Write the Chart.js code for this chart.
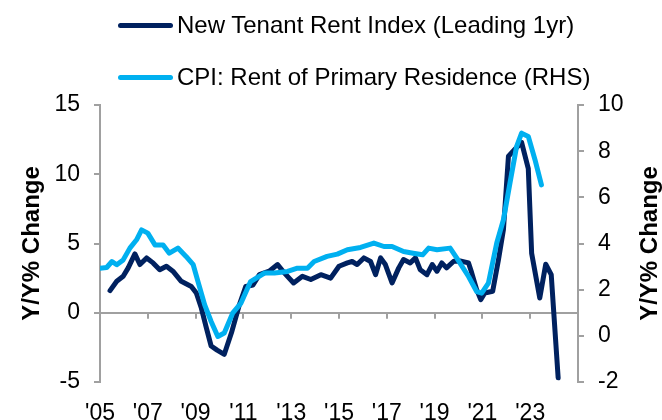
<!DOCTYPE html>
<html>
<head>
<meta charset="utf-8">
<script src="https://cdn.jsdelivr.net/npm/chart.js@4"></script>
<style>
  html, body { margin:0; padding:0; background:#fff; overflow:hidden; }
  #wrap { position:relative; width:662px; height:420px; }
  canvas { position:absolute; left:0; top:0; }
  .leg { position:absolute; left:118px; display:flex; align-items:center; font:24px "Liberation Sans", Arial, sans-serif; color:#000; white-space:nowrap; line-height:28px; }
  .leg i { display:inline-block; width:55px; height:5px; border-radius:3px; margin-right:4px; }
</style>
</head>
<body>
<div id="wrap">
  <canvas id="c" width="662" height="420"></canvas>
  <div class="leg" style="top:11px"><i style="background:#00215f"></i>New Tenant Rent Index (Leading 1yr)</div>
  <div class="leg" style="top:63px"><i style="background:#00b0f0"></i>CPI: Rent of Primary Residence (RHS)</div>
</div>
<script>
// data (x = decimal year)
const tenantDates = [2005.42,2005.7,2005.97,2006.18,2006.46,2006.67,2006.95,2007.22,2007.5,2007.78,2008.05,2008.4,2008.82,2009.03,2009.24,2009.45,2009.65,2009.9,2010.2,2010.5,2010.83,2011.1,2011.4,2011.67,2012.08,2012.43,2012.7,2013.1,2013.47,2013.82,2014.24,2014.65,2015.0,2015.35,2015.55,2015.76,2016.04,2016.32,2016.53,2016.74,2016.94,2017.22,2017.5,2017.7,2017.98,2018.2,2018.4,2018.68,2018.9,2019.1,2019.3,2019.5,2019.8,2020.07,2020.42,2020.55,2020.76,2020.93,2021.1,2021.43,2021.67,2021.88,2022.09,2022.36,2022.64,2022.92,2023.06,2023.4,2023.65,2023.88,2024.17];
const tenantValues = [1.6,2.27,2.63,3.24,4.25,3.48,3.96,3.6,3.1,3.36,3.0,2.27,1.9,1.43,0.34,-1.1,-2.4,-2.7,-3.0,-1.45,0.58,1.9,2.0,2.75,3.0,3.48,2.9,2.15,2.63,2.4,2.75,2.5,3.36,3.6,3.7,3.48,3.96,3.7,2.75,3.96,3.48,2.15,3.24,3.84,3.6,3.96,3.1,2.75,3.48,3.0,3.6,3.24,3.72,3.74,3.6,2.9,1.67,0.95,1.43,1.55,3.8,6.0,11.3,11.8,12.3,10.4,4.3,1.06,3.5,2.75,-4.7];

const cpiDates = [2005.0,2005.28,2005.5,2005.7,2005.97,2006.25,2006.53,2006.74,2007.0,2007.3,2007.64,2007.9,2008.26,2008.6,2008.9,2009.1,2009.38,2009.65,2009.93,2010.2,2010.55,2010.9,2011.3,2011.88,2012.3,2012.85,2013.26,2013.68,2013.96,2014.5,2014.93,2015.35,2015.9,2016.46,2016.88,2017.22,2017.7,2018.1,2018.5,2018.75,2019.1,2019.65,2019.93,2020.42,2020.76,2020.97,2021.25,2021.6,2021.88,2022.15,2022.43,2022.64,2022.92,2023.2,2023.47];
const cpiValues = [2.93,2.96,3.22,3.08,3.29,3.8,4.16,4.59,4.45,3.94,3.94,3.58,3.8,3.44,3.08,2.35,1.34,0.62,-0.03,0.12,0.98,1.42,2.35,2.72,2.72,2.79,2.93,2.93,3.22,3.44,3.54,3.73,3.83,4.02,3.87,3.87,3.65,3.58,3.51,3.8,3.73,3.8,3.37,2.57,1.92,1.85,2.28,4.02,5.03,6.6,8.2,8.78,8.64,7.63,6.54];

const xTickYears = [2005,2007,2009,2011,2013,2015,2017,2019,2021,2023];
const xTickLabels = ["'05","'07","'09","'11","'13","'15","'17","'19","'21","'23"];

const FONT = '"Liberation Sans", Arial, sans-serif';
const AXIS = '#a0a0a0';

// tick marks hanging under the zero line + right axis title (reads bottom-to-top)
const extras = {
  id:'extras',
  afterDraw(chart){
    const c = chart.ctx, x = chart.scales.x, y = chart.scales.y, a = chart.chartArea;
    const y0 = y.getPixelForValue(0);
    c.save();
    c.strokeStyle = AXIS; c.lineWidth = 2;
    xTickYears.forEach(v => {
      const px = Math.round(x.getPixelForValue(v));
      c.beginPath(); c.moveTo(px, y0); c.lineTo(px, y0 + 6); c.stroke();
    });
    c.translate(650, (a.top + a.bottom) / 2);
    c.rotate(-Math.PI / 2);
    c.font = 'bold 24px ' + FONT;
    c.fillStyle = '#000'; c.textAlign = 'center'; c.textBaseline = 'middle';
    c.fillText('Y/Y% Change', 0, 0);
    c.restore();
  }
};

new Chart(document.getElementById('c').getContext('2d'), {
  type:'line',
  data:{ datasets:[
    { label:'New Tenant Rent Index (Leading 1yr)', yAxisID:'y', order:1,
      data: tenantDates.map((d,i)=>({x:d, y:tenantValues[i]})),
      borderColor:'#00215f', borderWidth:5, pointRadius:0, tension:0, borderJoinStyle:'round', borderCapStyle:'round' },
    { label:'CPI: Rent of Primary Residence (RHS)', yAxisID:'y1', order:0,
      data: cpiDates.map((d,i)=>({x:d, y:cpiValues[i]})),
      borderColor:'#00b0f0', borderWidth:5, pointRadius:0, tension:0, borderJoinStyle:'round', borderCapStyle:'round' }
  ]},
  options:{
    responsive:false, animation:false,
    layout:{ padding:{ top:105, left:0, right:0, bottom:0 } },
    plugins:{ legend:{display:false}, tooltip:{enabled:false} },
    scales:{
      x:{ type:'linear', min:2005, max:2025,
        afterBuildTicks: s => { s.ticks = xTickYears.map(v => ({value:v})); },
        afterFit: s => { s.height = 38; },
        grid:{ display:false }, border:{ display:false },
        ticks:{ autoSkip:false, maxRotation:0, padding:10, color:'#000', font:{family:FONT, size:23},
          callback: v => xTickLabels[xTickYears.indexOf(v)] } },
      y:{ position:'left', min:-5, max:15,
        afterFit: s => { s.width = 100; },
        ticks:{ stepSize:5, padding:14, color:'#000', font:{family:FONT, size:23} },
        grid:{ drawOnChartArea:true, tickLength:6, tickColor:AXIS, lineWidth:2,
          color: c => c.tick && c.tick.value === 0 ? AXIS : 'rgba(0,0,0,0)' },
        border:{ display:true, color:AXIS, width:2 },
        title:{ display:true, text:'Y/Y% Change', color:'#000', font:{family:FONT, size:24, weight:'bold'}, padding:{top:18, bottom:0} } },
      y1:{ position:'right', min:-2, max:10,
        afterFit: s => { s.width = 84; },
        ticks:{ stepSize:2, padding:14, color:'#000', font:{family:FONT, size:23} },
        grid:{ drawOnChartArea:false, tickLength:6, tickColor:AXIS, lineWidth:2 },
        border:{ display:true, color:AXIS, width:2 } }
    }
  },
  plugins:[extras]
});
</script>
</body>
</html>
